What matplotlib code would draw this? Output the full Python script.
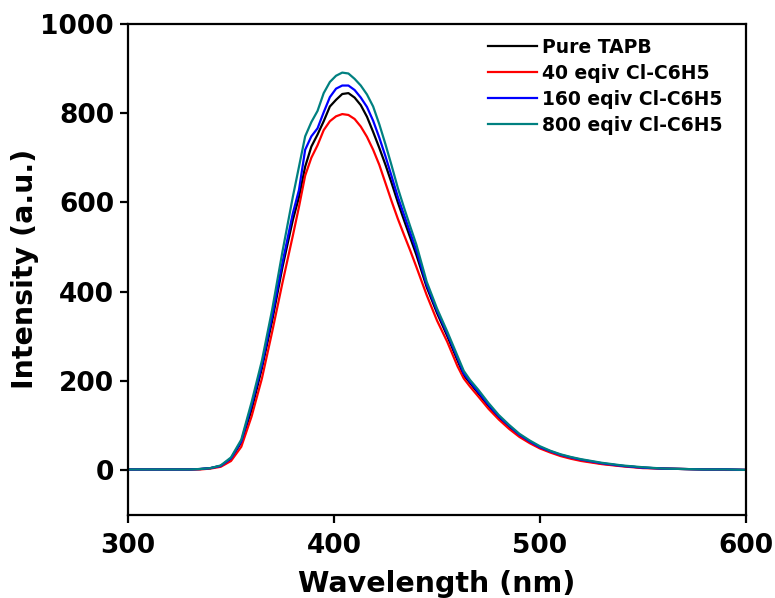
import matplotlib
matplotlib.use("Agg")
import matplotlib.pyplot as plt

wavelength = [300, 310, 320, 330, 335, 340, 345, 350, 355, 360, 365, 370, 375, 380,
              383, 386, 389, 392, 395, 398, 401, 404, 407, 410, 413, 416, 419, 422,
              425, 428, 431, 434, 437, 440, 445, 450, 455, 460, 463, 466, 470, 475,
              480, 485, 490, 495, 500, 505, 510, 515, 520, 530, 540, 550, 560, 570,
              580, 590, 600]

pure_tapb = [1, 1, 1, 1, 2, 4, 9, 25, 62, 135, 228, 335, 455, 560,
             612, 680, 725, 752, 782, 815, 830, 843, 845, 835, 818, 792, 758, 722,
             684, 643, 600, 560, 521, 482, 410, 352, 300, 245, 212, 195, 172, 143,
             118, 97, 77, 62, 50, 41, 33, 27, 22, 14, 9, 5, 3, 2,
             1, 1, 0]

eq40 = [1, 1, 1, 1, 1, 3, 7, 20, 52, 120, 205, 310, 420, 525,
        590, 660, 700, 728, 762, 782, 793, 798, 796, 787, 770, 747, 718, 684,
        643, 602, 563, 527, 492, 455, 392, 335, 287, 232, 205, 187, 165, 137,
        113, 92, 74, 60, 48, 39, 31, 25, 20, 13, 8, 4, 3, 2,
        1, 0, 0]

eq160 = [1, 1, 1, 1, 2, 4, 9, 26, 64, 145, 235, 345, 465, 575,
         628, 718, 748, 766, 802, 836, 855, 862, 862, 852, 835, 814, 783, 745,
         703, 658, 612, 572, 532, 492, 415, 357, 305, 250, 216, 198, 175, 146,
         120, 99, 79, 64, 51, 42, 34, 28, 23, 15, 9, 5, 3, 2,
         1, 1, 0]

eq800 = [1, 1, 1, 1, 2, 4, 10, 28, 68, 152, 245, 360, 490, 612,
         680, 748, 780, 805, 845, 870, 884, 891, 889, 877, 862, 842, 815, 775,
         730, 682, 632, 588, 546, 505, 422, 362, 310, 255, 222, 202, 180, 150,
         123, 101, 81, 66, 53, 43, 35, 29, 24, 16, 10, 6, 3, 2,
         1, 1, 0]

labels = ["Pure TAPB", "40 eqiv Cl-C6H5", "160 eqiv Cl-C6H5", "800 eqiv Cl-C6H5"]
colors = ["#000000", "#ff0000", "#0000ff", "#008080"]
xticks = [300, 400, 500, 600]
yticks = [0, 200, 400, 600, 800, 1000]

plt.rcParams['font.family'] = ['DejaVu Sans']
plt.rcParams['font.weight'] = 'bold'

fig = plt.figure(figsize=(7.75, 5.98), dpi=100)
ax = fig.add_axes([128/775, 1 - 514.5/598, (746-128)/775, (514.5-24)/598])

for ys, lab, c in zip([pure_tapb, eq40, eq160, eq800], labels, colors):
    ax.plot(wavelength, ys, color=c, lw=1.6, label=lab)

ax.set_xlim(300, 600)
ax.set_ylim(-100, 1000)
ax.set_xticks(xticks)
ax.set_yticks(yticks)
ax.tick_params(direction='out', length=6, width=1.6, labelsize=19,
               top=False, right=False)
ax.tick_params(axis='x', pad=7)
ax.tick_params(axis='y', pad=4)
for lab in ax.get_xticklabels() + ax.get_yticklabels():
    lab.set_fontweight('bold')
for s in ax.spines.values():
    s.set_linewidth(1.6)

ax.set_xlabel("Wavelength (nm)", fontsize=20.5, fontweight='bold', labelpad=8)
ax.set_ylabel("Intensity (a.u.)", fontsize=20.5, fontweight='bold', labelpad=1)

leg = ax.legend(loc='upper left', frameon=False, fontsize=13.5,
                handlelength=2.6, handletextpad=0.28, labelspacing=0.37,
                bbox_to_anchor=((488-128)/618, 1 - 14/490.5), borderaxespad=0.0,
                borderpad=0.0)
for t in leg.get_texts():
    t.set_fontweight('bold')

fig.savefig("out.png", dpi=100)
